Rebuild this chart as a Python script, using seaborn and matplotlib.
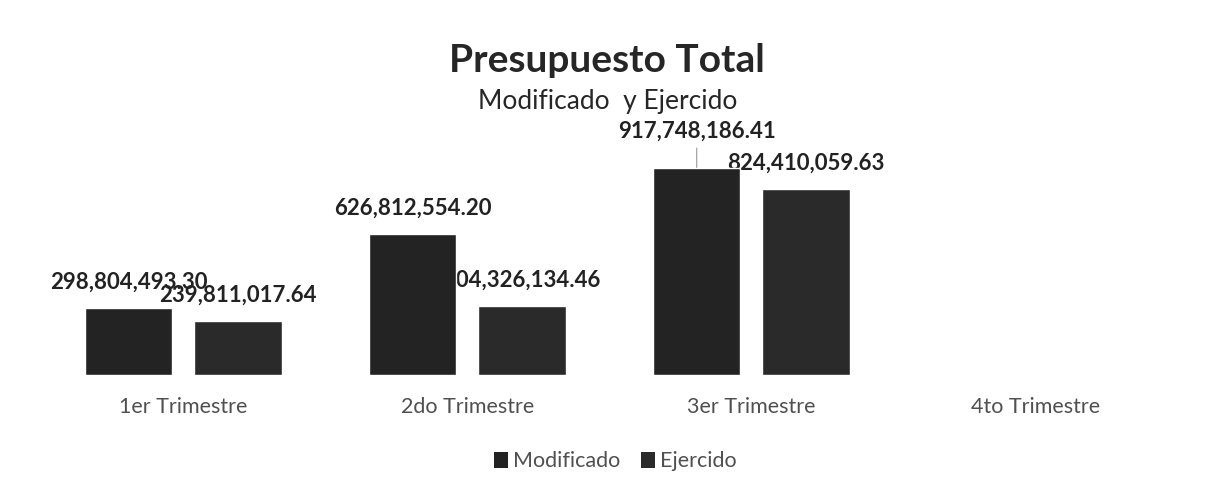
import numpy as np
import pandas as pd
import matplotlib
matplotlib.use("Agg")
import matplotlib.pyplot as plt
import seaborn as sns
from matplotlib.patches import Patch

# chart data
trimestres = ["1er Trimestre", "2do Trimestre", "3er Trimestre", "4to Trimestre"]
series = ["Modificado", "Ejercido"]
modificado = [298804493.30, 626812554.20, 917748186.41, np.nan]
ejercido = [239811017.64, 304326134.46, 824410059.63, np.nan]

df = pd.DataFrame({
    "Trimestre": trimestres * 2,
    "Serie": [series[0]] * len(trimestres) + [series[1]] * len(trimestres),
    "Monto": modificado + ejercido,
})

sns.set_theme(style="white")
plt.rcParams["font.family"] = ["Lato", "DejaVu Sans"]

pal = {"Modificado": "#232323", "Ejercido": "#2a2a2a"}

fig = plt.figure(figsize=(12.09, 4.94), dpi=100)
ax = fig.add_axes([0.034, 0.241, 0.94, 0.4555])
sns.barplot(data=df, x="Trimestre", y="Monto", hue="Serie", order=trimestres,
            hue_order=series, palette=pal, width=0.77, gap=0.2,
            saturation=1, errorbar=None, legend=False, ax=ax)

ax.set_ylim(0, 1e9)
ax.set_xlim(-0.5, 3.5)
sns.despine(ax=ax, left=True, bottom=True)
ax.set_yticks([])
ax.set_xlabel("")
ax.set_ylabel("")
ax.tick_params(axis="x", length=0, pad=16, labelsize=15.5, labelcolor="#505050")

# data labels, sitting behind the bars like in the original
for i, cont in enumerate(ax.containers):
    vals = modificado if i == 0 else ejercido
    for bar, v in zip(cont, vals):
        if np.isnan(v):
            continue
        x = bar.get_x() + bar.get_width() / 2
        if v > 9e8:
            # this label was moved up in the original, with a leader line
            ax.annotate(f"{v:,.2f}", (x, bar.get_height()), xytext=(0, 19),
                        textcoords="offset points", ha="center", va="bottom",
                        fontsize=16, fontweight="bold", color="#222222", zorder=0.5,
                        arrowprops=dict(arrowstyle="-", color="#9a9a9a", lw=0.8,
                                        shrinkA=2, shrinkB=0))
        else:
            ax.annotate(f"{v:,.2f}", (x, bar.get_height()), xytext=(0, 11),
                        textcoords="offset points", ha="center", va="bottom",
                        fontsize=16, fontweight="bold", color="#222222", zorder=0.5)

fig.text(0.502, 0.878, "Presupuesto Total", ha="center", va="center",
         fontsize=28, fontweight="bold", color="#262626")
fig.text(0.503, 0.794, "Modificado  y Ejercido", ha="center", va="center",
         fontsize=19, color="#262626")

handles = [Patch(facecolor=pal[s], edgecolor="none", label=s) for s in series]
fig.legend(handles=handles, loc="center", bbox_to_anchor=(0.509, 0.066), ncol=2,
           frameon=False, fontsize=15.5, handlelength=0.65, handleheight=0.75,
           handletextpad=0.2, columnspacing=1.0, labelcolor="#505050")

fig.savefig("out.png", dpi=100)
